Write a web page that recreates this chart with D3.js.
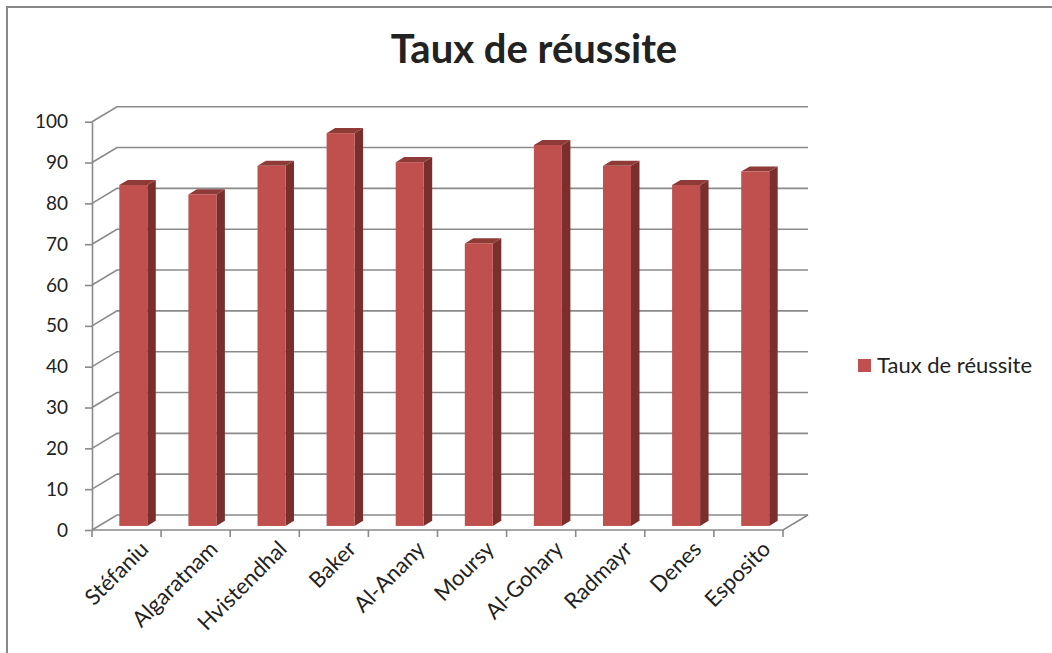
<!DOCTYPE html>
<html><head><meta charset="utf-8">
<script src="https://cdn.jsdelivr.net/npm/d3@7"></script>
<style>
  body { margin: 0; background: #fff; }
  svg { display: block; }
  text { font-family: Lato, "Open Sans", sans-serif; fill: #222; }
</style>
</head><body>
<script>
// Success rate per person
const categories = ["Stéfaniu", "Algaratnam", "Hvistendhal", "Baker", "Al-Anany",
                    "Moursy", "Al-Gohary", "Radmayr", "Denes", "Esposito"];
const values = [83.5, 81.2, 88.2, 96.2, 89.1, 69.2, 93.3, 88.2, 83.5, 86.8];
const yTicks = [0, 10, 20, 30, 40, 50, 60, 70, 80, 90, 100];
const seriesName = "Taux de réussite";
const chartTitle = "Taux de réussite";

const W = 1052, H = 653;
const plot = { left: 92, right: 783, bottom: 530, top: 121.7 };
const depth = { dx: 25, dy: -15 };          // back-wall offset of the 3D box
const barDepth = { f0: 0.27, f1: 0.61 };    // bar front/back position inside the depth
const colors = { front: "#C0504D", side: "#7B2F2D", top: "#8E3A37", grid: "#8a8a8a", frame: "#888" };

const svg = d3.select("body").append("svg").attr("width", W).attr("height", H);

// chart-area frame
svg.append("path")
  .attr("d", `M7,${H} L7,7 L${W},7`)
  .attr("fill", "none").attr("stroke", colors.frame).attr("stroke-width", 2);

const x = d3.scaleBand().domain(categories)
  .range([plot.left, plot.right]).paddingInner(0.595).paddingOuter(0.2975);
const y = d3.scaleLinear().domain([0, 100]).range([plot.bottom, plot.top]);

// back wall gridlines with their side-wall diagonals
svg.append("g").selectAll("path").data(yTicks).join("path")
  .attr("d", t => `M${plot.left},${y(t)} L${plot.left + depth.dx},${y(t) + depth.dy} L${plot.right + depth.dx},${y(t) + depth.dy}`)
  .attr("fill", "none").attr("stroke", colors.grid).attr("stroke-width", 1.6);

// floor front and right edges
svg.append("path")
  .attr("d", `M${plot.left},${plot.bottom} L${plot.right},${plot.bottom} L${plot.right + depth.dx},${plot.bottom + depth.dy}`)
  .attr("fill", "none").attr("stroke", colors.grid).attr("stroke-width", 1.6);

// 3D columns
const ox = barDepth.f0 * depth.dx, oy = barDepth.f0 * depth.dy;
const ddx = (barDepth.f1 - barDepth.f0) * depth.dx, ddy = (barDepth.f1 - barDepth.f0) * depth.dy;
const bars = svg.append("g").selectAll("g").data(categories.map((c, i) => ({ c, v: values[i] }))).join("g");
bars.each(function(d) {
  const g = d3.select(this);
  const xl = x(d.c) + ox, xr = xl + x.bandwidth();
  const yt = y(d.v) + oy, yb = y(0) + oy;
  g.append("path")
    .attr("d", `M${xr},${yt} L${xr + ddx},${yt + ddy} L${xr + ddx},${yb + ddy} L${xr},${yb} Z`)
    .attr("fill", colors.side);
  g.append("path")
    .attr("d", `M${xl},${yt} L${xl + ddx},${yt + ddy} L${xr + ddx},${yt + ddy} L${xr},${yt} Z`)
    .attr("fill", colors.top);
  g.append("rect")
    .attr("x", xl).attr("y", yt).attr("width", x.bandwidth()).attr("height", yb - yt)
    .attr("fill", colors.front);
});

// value axis
const yAxis = svg.append("g").attr("transform", `translate(${plot.left},0)`)
  .call(d3.axisLeft(y).tickValues(yTicks).tickSize(7).tickSizeOuter(0).tickPadding(17));
yAxis.select(".domain").attr("stroke", colors.grid).attr("stroke-width", 1.6);
yAxis.selectAll(".tick line").attr("stroke", colors.grid).attr("stroke-width", 1.6);
yAxis.selectAll(".tick text").attr("font-size", 19).attr("font-family", "Lato, sans-serif").attr("fill", "#222");

// category ticks between columns
const step = x.step();
svg.append("g").selectAll("line").data(d3.range(categories.length + 1)).join("line")
  .attr("x1", i => plot.left + i * step).attr("x2", i => plot.left + i * step)
  .attr("y1", plot.bottom).attr("y2", plot.bottom + 7)
  .attr("stroke", colors.grid).attr("stroke-width", 1.6);

// rotated category labels
svg.append("g").selectAll("text").data(categories).join("text")
  .attr("transform", c => `translate(${x(c) + x.bandwidth() / 2 + 18},${plot.bottom + 15}) rotate(-45)`)
  .attr("text-anchor", "end").attr("dy", "0.35em")
  .attr("font-size", 22)
  .text(c => c);

// title
svg.append("text").attr("x", 534).attr("y", 63).attr("text-anchor", "middle")
  .attr("font-size", 40).attr("font-weight", 700).attr("fill", "#000")
  .text(chartTitle);

// legend
const lg = svg.append("g").attr("transform", "translate(858,359)");
lg.append("rect").attr("width", 13).attr("height", 13).attr("fill", colors.front);
lg.append("text").attr("x", 19).attr("y", 6.5).attr("dy", "0.36em").attr("font-size", 22).text(seriesName);
</script>
</body></html>
